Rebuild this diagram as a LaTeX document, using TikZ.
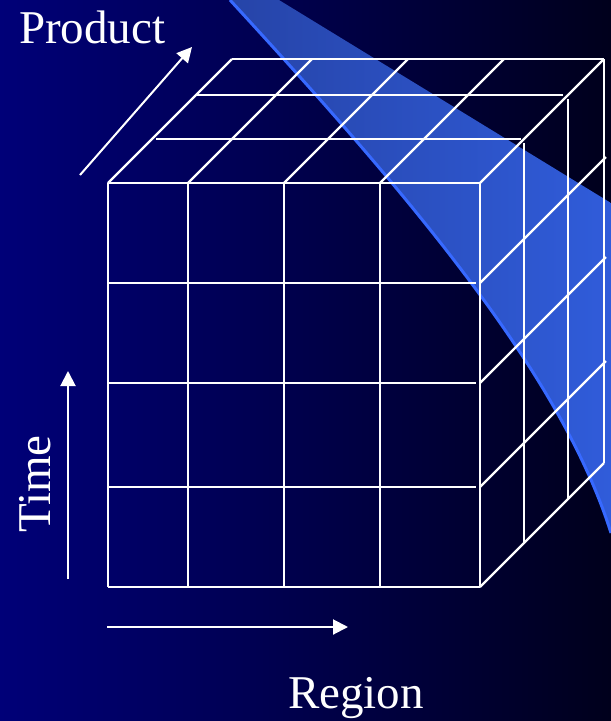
\documentclass[tikz,border=0pt]{standalone}
\usepackage{fontspec}
\setmainfont{Liberation Serif}
\usetikzlibrary{arrows.meta}
\definecolor{bgL}{RGB}{0,0,120}
\definecolor{bgR}{RGB}{0,0,28}
\definecolor{beamL}{RGB}{38,68,168}
\definecolor{beamR}{RGB}{48,92,218}
\definecolor{beamEdge}{RGB}{55,105,255}
\begin{document}
\begin{tikzpicture}[x=1pt,y=-1pt,
  grid/.style={white,line width=2.2pt},
  axis/.style={white,line width=2pt,-{Triangle[length=15pt,width=15pt]}},
  lbl/.style={text=white,font=\fontsize{47}{52}\selectfont,inner sep=0pt}]
\useasboundingbox (0,0) rectangle (611,721);
\shade[left color=bgL,right color=bgR] (0,0) rectangle (611,721);
% light beam
\begin{scope}
\clip (0,0) rectangle (611,721);
\shade[left color=beamL,right color=beamR]
  (279,0) -- (611,203) -- (611,533)
  .. controls (560,370) and (400,185) .. (230,0) -- cycle;
\draw[beamEdge,line width=3pt] (230,0) .. controls (400,185) and (560,370) .. (611,533);
\end{scope}
% front face
\foreach \x in {108,188,284,380,480} \draw[grid] (\x,183) -- (\x,587);
\draw[grid] (108,183) -- (480,183);
\draw[grid] (108,587) -- (480,587);
\foreach \y in {283,383,487} \draw[grid] (108,\y) -- (476,\y);
% top face
\foreach \x in {108,188,284,380,480} \draw[grid] (\x,183) -- ++(124,-124);
\draw[grid] (232,59) -- (604,59);
\draw[grid] (196,95) -- (563,95);
\draw[grid] (156,139) -- (521,139);
% right face
\draw[grid] (524,143) -- (524,543);
\draw[grid] (568,99) -- (568,499);
\draw[grid] (604,59) -- (604,463);
\foreach \y in {283,383,487} \draw[grid] (480,\y) -- ++(126,-126);
\draw[grid] (480,587) -- (604,463);
% axes
\coordinate (pA) at (80,175); \coordinate (pB) at (192,47);
\coordinate (tA) at (68,579); \coordinate (tB) at (68,371);
\coordinate (rA) at (107,627); \coordinate (rB) at (348,627);
\draw[axis] (pA) -- (pB);
\draw[axis] (tA) -- (tB);
\draw[axis] (rA) -- (rB);
% labels
\node[lbl,anchor=base west] (product) at (19,43) {Product};
\node[lbl,anchor=base west,rotate=90] (time) at (50,533) {Time};
\node[lbl,anchor=base west] (region) at (288,708) {Region};
\end{tikzpicture}
\end{document}
